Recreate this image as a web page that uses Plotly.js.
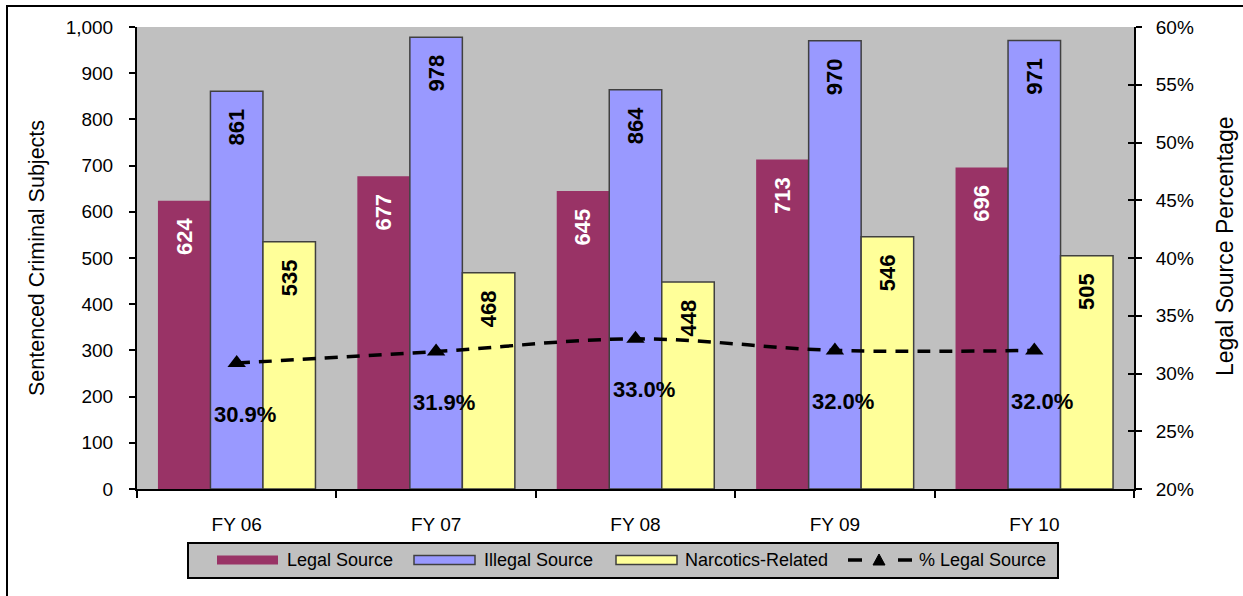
<!DOCTYPE html>
<html>
<head>
<meta charset="utf-8">
<script src="https://cdn.plot.ly/plotly-3.0.1.min.js"></script>
<style>
  html, body { margin: 0; padding: 0; overflow: hidden; background: #fff; }
  #chart { width: 1243px; height: 596px; }
  #frame {
    position: absolute; left: 6px; top: 5px; width: 2000px; height: 2000px;
    border: 2px solid #000; pointer-events: none;
  }
</style>
</head>
<body>
<div id="chart"></div>
<div id="frame"></div>
<script>
// Sentenced criminal subjects by fiscal year
const categories = ['FY 06', 'FY 07', 'FY 08', 'FY 09', 'FY 10'];
const legalSource = [624, 677, 645, 713, 696];
const illegalSource = [861, 978, 864, 970, 971];
const narcoticsRelated = [535, 468, 448, 546, 505];
const pctLegalSource = [0.309, 0.319, 0.330, 0.320, 0.320];

const seriesNames = ['Legal Source', 'Illegal Source', 'Narcotics-Related', '% Legal Source'];
const FONT = 'Liberation Sans, Arial, sans-serif';

const C_LEGAL = '#993366';
const C_ILLEGAL = '#9999FF';
const C_NARC = '#FFFF99';
const C_EDGE = '#404040';

// plot area in pixels (margins below), used to place the hand-drawn legend
const M = { l: 137, r: 109, t: 27, b: 107 };
const W = 1243, H = 596;
const PW = W - M.l - M.r, PH = H - M.t - M.b;
const px = x => (x - M.l) / PW;
const py = y => (M.t + PH - y) / PH;

// value labels sit a little below the top of each bar
const LABEL_PAD = '\u2002\u2006';

function barTrace(name, values, color, edge, textColor) {
  return {
    type: 'bar', name: name, x: categories, y: values,
    text: values.map(v => String(v) + LABEL_PAD),
    textposition: 'inside', insidetextanchor: 'end', textangle: -90,
    constraintext: 'none', cliponaxis: false,
    textfont: { family: FONT, size: 22, weight: 700, color: textColor },
    marker: { color: color, line: { color: edge, width: edge ? 1.5 : 0 } },
    hoverinfo: 'skip', showlegend: false
  };
}

const traces = [
  barTrace(seriesNames[0], legalSource, C_LEGAL, null, '#ffffff'),
  barTrace(seriesNames[1], illegalSource, C_ILLEGAL, C_EDGE, '#000000'),
  barTrace(seriesNames[2], narcoticsRelated, C_NARC, C_EDGE, '#000000'),
  {
    type: 'scatter', mode: 'lines+markers', name: seriesNames[3],
    x: categories, y: pctLegalSource, yaxis: 'y2',
    line: { color: '#000', width: 3.5, dash: '13px,9px', shape: 'spline', smoothing: 1 },
    marker: { symbol: 'triangle-up', size: 16, color: '#000' },
    hoverinfo: 'skip', showlegend: false, cliponaxis: false
  }
];

// percentage labels under each point
const pctLabels = categories.map((c, i) => ({
  x: c, y: pctLegalSource[i], xref: 'x', yref: 'y2',
  text: (pctLegalSource[i] * 100).toFixed(1) + '%',
  showarrow: false, xshift: 8, yshift: -51,
  font: { family: FONT, size: 22, weight: 700, color: '#000' }
}));

// axis titles
const titles = [
  { x: px(37), y: py(258), xref: 'paper', yref: 'paper', xanchor: 'center', yanchor: 'middle',
    text: 'Sentenced Criminal Subjects',
    textangle: -90, showarrow: false, font: { family: FONT, size: 21.5, color: '#000' } },
  { x: px(1225), y: py(246), xref: 'paper', yref: 'paper', xanchor: 'center', yanchor: 'middle',
    text: 'Legal Source Percentage',
    textangle: -90, showarrow: false, font: { family: FONT, size: 23, color: '#000' } }
];

// legend box
const legendItems = [
  { name: seriesNames[0], kind: 'bar', color: C_LEGAL, edge: null, sx: 217, tx: 285 },
  { name: seriesNames[1], kind: 'bar', color: C_ILLEGAL, edge: C_EDGE, sx: 414, tx: 482 },
  { name: seriesNames[2], kind: 'bar', color: C_NARC, edge: C_EDGE, sx: 616, tx: 683 },
  { name: seriesNames[3], kind: 'line', sx: 848, tx: 917 }
];
const LEG = { x0: 188, x1: 1058, y0: 543, y1: 578, cy: 560 };

const shapes = [
  { type: 'rect', xref: 'paper', yref: 'paper', x0: px(LEG.x0), x1: px(LEG.x1), y0: py(LEG.y1), y1: py(LEG.y0),
    fillcolor: '#C0C0C0', line: { color: '#000', width: 2 }, layer: 'below' }
];
const legendText = [];
legendItems.forEach(it => {
  if (it.kind === 'bar') {
    shapes.push({ type: 'rect', xref: 'paper', yref: 'paper',
      x0: px(it.sx), x1: px(it.sx + 61), y0: py(LEG.cy + 4.5), y1: py(LEG.cy - 4.5),
      fillcolor: it.color, line: { color: it.edge || it.color, width: it.edge ? 1.5 : 0 } });
  } else {
    shapes.push({ type: 'line', xref: 'paper', yref: 'paper',
      x0: px(it.sx), x1: px(it.sx + 14), y0: py(LEG.cy), y1: py(LEG.cy), line: { color: '#000', width: 3.5 } });
    shapes.push({ type: 'line', xref: 'paper', yref: 'paper',
      x0: px(it.sx + 50), x1: px(it.sx + 64), y0: py(LEG.cy), y1: py(LEG.cy), line: { color: '#000', width: 3.5 } });
    const cx = it.sx + 31;
    shapes.push({ type: 'path', xref: 'paper', yref: 'paper',
      path: `M ${px(cx - 6)} ${py(LEG.cy + 5)} L ${px(cx + 6)} ${py(LEG.cy + 5)} L ${px(cx)} ${py(LEG.cy - 6)} Z`,
      fillcolor: '#000', line: { color: '#000', width: 1 } });
  }
  legendText.push({ x: px(it.tx), y: py(LEG.cy), xref: 'paper', yref: 'paper', xanchor: 'left', yanchor: 'middle',
    text: it.name, showarrow: false, font: { family: FONT, size: 18, color: '#000' } });
});

const layout = {
  width: W, height: H,
  margin: M,
  paper_bgcolor: '#ffffff', plot_bgcolor: '#C0C0C0',
  font: { family: FONT, size: 19, color: '#000' },
  barmode: 'group', bargap: 0.21, bargroupgap: 0,
  showlegend: false,
  xaxis: {
    type: 'category', range: [-0.5, 4.5], tickson: 'boundaries',
    showline: true, linecolor: '#000', linewidth: 2,
    ticks: 'outside', ticklen: 7, tickwidth: 2, tickcolor: '#000',
    ticklabelstandoff: 17,
    showgrid: false, zeroline: false, fixedrange: true,
    tickfont: { family: FONT, size: 19, color: '#000' }
  },
  yaxis: {
    range: [0, 1000], dtick: 100, tickformat: ',d',
    showline: true, linecolor: '#000', linewidth: 2,
    ticks: 'outside', ticklen: 6, tickwidth: 2, tickcolor: '#000',
    ticklabelstandoff: 12,
    showgrid: false, zeroline: false, fixedrange: true,
    tickfont: { family: FONT, size: 19, color: '#000' }
  },
  yaxis2: {
    overlaying: 'y', side: 'right', anchor: 'x',
    range: [0.2, 0.6], dtick: 0.05, tickformat: '.0%',
    showline: true, linecolor: '#000', linewidth: 2,
    ticks: 'outside', ticklen: 6, tickwidth: 2, tickcolor: '#000',
    ticklabelstandoff: 10,
    showgrid: false, zeroline: false, fixedrange: true,
    tickfont: { family: FONT, size: 19, color: '#000' }
  },
  // inner half of the right-hand tick marks
  yaxis3: {
    overlaying: 'y', side: 'right', anchor: 'x',
    range: [0.2, 0.6], dtick: 0.05,
    showline: false, showticklabels: false,
    ticks: 'inside', ticklen: 6, tickwidth: 2, tickcolor: '#000',
    showgrid: false, zeroline: false, fixedrange: true
  },
  shapes: shapes,
  annotations: [...pctLabels, ...titles, ...legendText]
};

// an empty trace so the inner tick axis is drawn
traces.push({ type: 'scatter', x: [], y: [], yaxis: 'y3', showlegend: false, hoverinfo: 'skip' });

Plotly.newPlot('chart', traces, layout, { staticPlot: true, displayModeBar: false });
</script>
</body>
</html>
